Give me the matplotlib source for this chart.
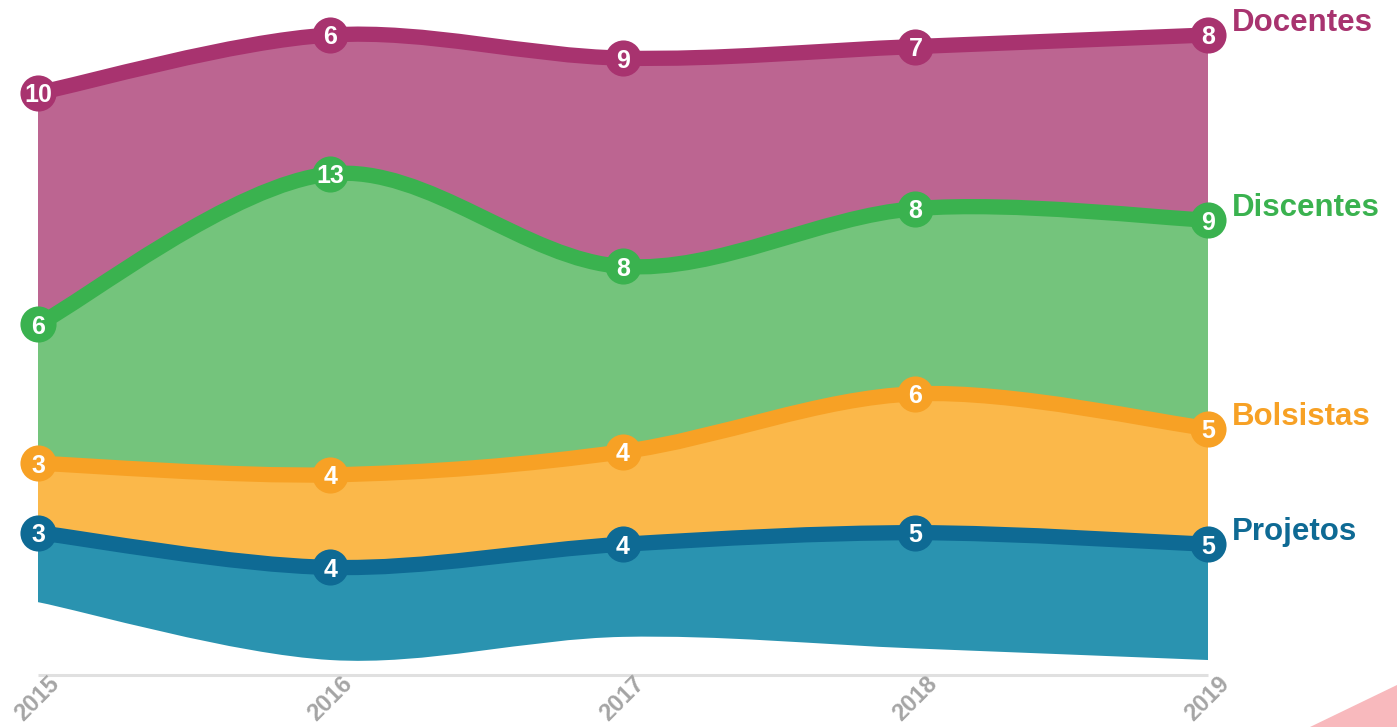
import matplotlib
matplotlib.use("Agg")
import matplotlib.pyplot as plt
from matplotlib.path import Path
from matplotlib.patches import PathPatch, Polygon
import numpy as np

# ---------------- data ----------------
years = ["2015", "2016", "2017", "2018", "2019"]
series_names = ["Projetos", "Bolsistas", "Discentes", "Docentes"]  # bottom -> top
projetos = [3, 4, 4, 5, 5]
bolsistas = [3, 4, 4, 6, 5]
discentes = [6, 13, 8, 8, 9]
docentes = [10, 6, 9, 7, 8]

line_colors = ["#0E6A94", "#F7A125", "#3AB24F", "#A8336F"]
area_colors = ["#2A93B0", "#FBB84A", "#74C47C", "#BC6591"]

# ---------------- layout (pixel mapping) ----------------
W, H = 1397, 727
X0_PX, X1_PX = 38, 1208
PX_PER_UNIT = 23.15
CENTER_PX = 347.5

fig = plt.figure(figsize=(W / 100, H / 100), dpi=100)
ax = fig.add_axes([0, 0, 1, 1])
ax.axis("off")
px_per_x = (X1_PX - X0_PX) / (len(years) - 1)
ax.set_xlim(-X0_PX / px_per_x, (W - X0_PX) / px_per_x)
ax.set_ylim(-(H - CENTER_PX) / PX_PER_UNIT, CENTER_PX / PX_PER_UNIT)

values = np.array([projetos, bolsistas, discentes, docentes], dtype=float)
x = np.arange(len(years), dtype=float)
totals = values.sum(axis=0)
baseline = -totals / 2.0  # silhouette (centered) stream layout
tops = baseline + np.cumsum(values, axis=0)
bottoms = np.vstack([baseline, tops[:-1]])


def cardinal_segments(xs, ys):
    """Cubic Bezier segments of a cardinal (tension 0) spline through the points."""
    pts = np.column_stack([xs, ys])
    n = len(pts)
    segs = []
    for i in range(n - 1):
        p0 = pts[max(i - 1, 0)]
        p1 = pts[i]
        p2 = pts[i + 1]
        p3 = pts[min(i + 2, n - 1)]
        c1 = p1 + (p2 - p0) / 6.0
        c2 = p2 - (p3 - p1) / 6.0
        segs.append((p1, c1, c2, p2))
    return segs


def curve_path(xs, ys):
    segs = cardinal_segments(xs, ys)
    verts = [segs[0][0]]
    codes = [Path.MOVETO]
    for _, c1, c2, p2 in segs:
        verts += [c1, c2, p2]
        codes += [Path.CURVE4] * 3
    return Path(verts, codes)


def area_path(xs, ylo, yhi):
    top = cardinal_segments(xs, yhi)
    bot = cardinal_segments(xs, ylo)
    verts = [top[0][0]]
    codes = [Path.MOVETO]
    for _, c1, c2, p2 in top:
        verts += [c1, c2, p2]
        codes += [Path.CURVE4] * 3
    verts.append(bot[-1][3])
    codes.append(Path.LINETO)
    for p1, c1, c2, p2 in reversed(bot):
        verts += [c2, c1, p1]
        codes += [Path.CURVE4] * 3
    verts.append(top[0][0])
    codes.append(Path.CLOSEPOLY)
    return Path(verts, codes)


# areas
for i in range(len(series_names)):
    ax.add_patch(PathPatch(area_path(x, bottoms[i], tops[i]), facecolor=area_colors[i],
                           edgecolor="none", zorder=1))

# lines
for i in range(len(series_names)):
    ax.add_patch(PathPatch(curve_path(x, tops[i]), facecolor="none", edgecolor=line_colors[i],
                           lw=11, capstyle="butt", zorder=3))

# markers + value labels
for i in range(len(series_names)):
    ax.plot(x, tops[i], "o", ms=26, color=line_colors[i], mec="none", zorder=4)
    for j in range(len(years)):
        ax.text(x[j], tops[i][j], f"{int(values[i][j])}", color="white", fontsize=18,
                fontweight="bold", family="Liberation Sans", ha="center", va="center_baseline",
                zorder=5)
    ax.text(x[-1] + 24 / px_per_x, tops[i][-1] + 12 / PX_PER_UNIT, series_names[i],
            color=line_colors[i], fontsize=22.5, fontweight="bold", family="Liberation Sans",
            ha="left", va="center", zorder=5)

# x axis
axis_y = -(675 - CENTER_PX) / PX_PER_UNIT
ax.plot([x[0], x[-1]], [axis_y, axis_y], color="#E0E0E0", lw=2.2, zorder=2, solid_capstyle="butt")
for j, yr in enumerate(years):
    ax.text(x[j] + 18 / px_per_x, axis_y - 5 / PX_PER_UNIT, yr, rotation=45, rotation_mode="anchor",
            ha="right", va="center", color="#A5A5A5", fontsize=17, fontweight="bold",
            family="Liberation Sans", zorder=5)

# decorative corner
fig.patches.append(Polygon([(1310 / W, 0), (1.0, (H - 685) / H), (1.0, 0)], closed=True,
                           transform=fig.transFigure, facecolor="#F8B9BD", edgecolor="none"))

fig.savefig("out.png", dpi=100)
